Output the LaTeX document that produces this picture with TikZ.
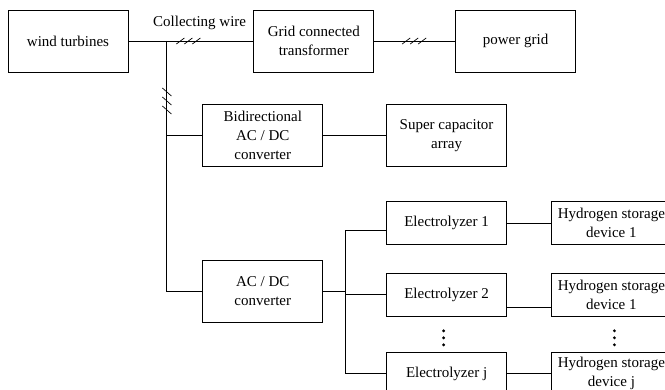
\documentclass[tikz,border=0pt]{standalone}
\usepackage{fontspec}
\setmainfont{Liberation Serif}
\usetikzlibrary{positioning,calc}

\begin{document}
\begin{tikzpicture}[x=1pt, y=1pt, font=\fontsize{15}{19}\selectfont,
  blk/.style={rectangle, draw, line width=0.8pt, minimum width=120pt,
              minimum height=62pt, align=center, inner sep=2pt},
  cell/.style={blk, minimum height=43pt},
  wire/.style={line width=0.8pt},
  hatch/.style={line width=0.7pt}]

  \useasboundingbox (0,0) rectangle (665,-390);
  \clip (0,0) rectangle (665,-390);

  % Main line
  \node[blk] (wt) at (68,-41) {wind turbines};
  \node[blk, right=125pt of wt] (grid) {Grid connected\\transformer};
  \node[blk, right=81pt of grid] (pg) {power grid};

  % Storage branches
  \node[blk, below right=32pt and 74pt of wt] (bidir) {Bidirectional\\AC / DC\\converter};
  \node[blk, right=63pt of bidir] (sc) {Super capacitor\\array};
  \node[blk, below=93pt of bidir] (acdc) {AC / DC\\converter};

  % Electrolyzers and tanks
  \node[cell, below=34pt of sc] (e1) {Electrolyzer 1};
  \node[cell, below=28pt of e1] (e2) {Electrolyzer 2};
  \node[cell, below=35pt of e2] (ej) {Electrolyzer j};
  \node[cell, right=44pt of e1] (h1) {Hydrogen storage\\device 1};
  \node[cell, right=44pt of e2] (h2) {Hydrogen storage\\device 1};
  \node[cell, right=44pt of ej] (hj) {Hydrogen storage\\device j};

  % Wires
  \coordinate (jn) at ($(wt.east)+(38,0)$);
  \draw[wire] (wt) -- (grid) node[pos=0.57, above=8pt] (cw) {Collecting wire};
  \draw[wire] (grid) -- (pg);
  \draw[wire] (jn) |- (acdc.west);
  \draw[wire] (jn |- bidir.west) -- (bidir.west);
  \draw[wire] (bidir) -- (sc);
  \coordinate (bus) at ($(acdc.east)+(22,0)$);
  \draw[wire] (acdc) -- (bus);
  \draw[wire] ([yshift=-7pt]e1.west) -| (bus) |- (ej.west);
  \draw[wire] (bus |- e2.west) -- (e2.west);
  \draw[wire] (e1) -- (h1);
  \draw[wire] ([yshift=-13pt]e2.east) -- ([yshift=-13pt]h2.west);
  \draw[wire] (ej) -- (hj);

  % Three-phase marks
  \foreach \d in {52,60,68}
    \draw[hatch] ($(wt.east)+(\d,0)$) ++(-4,-3) -- ++(8,6);
  \foreach \d in {32,40,48}
    \draw[hatch] ($(grid.east)+(\d,0)$) ++(-4,-3) -- ++(8,6);
  \foreach \d in {51,60,69}
    \draw[hatch] ($(jn)+(0,-\d)$) ++(-4,4) -- ++(9,-8);

  % Ellipsis dots
  \foreach \d in {14,21,28} {
    \fill ($(e2.south)+(-3,-\d)$) circle (1.6);
    \fill ($(h2.south)+(3,-\d)$) circle (1.6);
  }
\end{tikzpicture}
\end{document}
